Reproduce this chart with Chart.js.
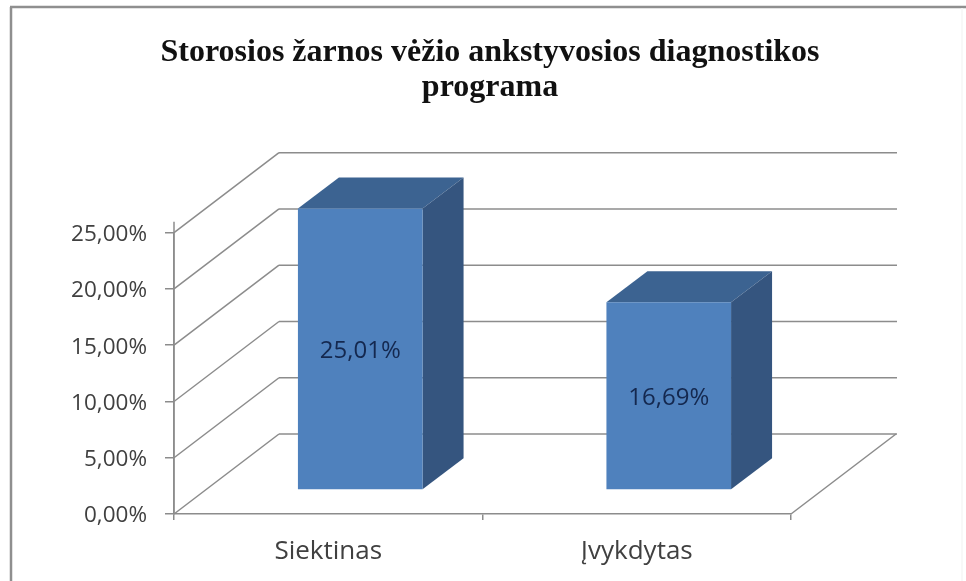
<!DOCTYPE html>
<html><head><meta charset="utf-8">
<style>html,body{margin:0;padding:0;background:#fff;overflow:hidden}canvas{display:block}</style>
<script src="https://cdn.jsdelivr.net/npm/chart.js@4"></script></head>
<body><canvas id="c" width="966" height="581" style="width:966px;height:581px"></canvas>
<script>
const titleLines = ['Storosios žarnos vėžio ankstyvosios diagnostikos', 'programa'];
const categories = ['Siektinas', 'Įvykdytas'];
const values = [25.01, 16.69];
const valueLabels = ['25,01%', '16,69%'];
const yTicks = [0, 5, 10, 15, 20, 25];

const LINE = '#8c8c8c', TEXT = '#404040', FONT = '"Open Sans", sans-serif';
const WALL = {dx: 105, dy: -80}, BAR = {dx: 41, dy: -31}, SHIFT = {dx: 32, dy: -24};
const fmt = v => v.toFixed(2).replace('.', ',') + '%';

function seg(ctx, x0, y0, x1, y1) { ctx.beginPath(); ctx.moveTo(x0, y0); ctx.lineTo(x1, y1); ctx.stroke(); }
function poly(ctx, pts, fill) {
  ctx.beginPath(); pts.forEach((p, i) => i ? ctx.lineTo(p[0], p[1]) : ctx.moveTo(p[0], p[1]));
  ctx.closePath(); ctx.fillStyle = fill; ctx.fill();
}

const box3d = {
  id: 'box3d',
  afterLayout(chart) { chart.titleBlock.left = 14; chart.titleBlock.right = 966; },
  beforeDraw(chart) {
    const ctx = chart.ctx;
    ctx.save(); ctx.strokeStyle = '#8f8f8f'; ctx.lineWidth = 2.5;
    seg(ctx, 11, 581, 11, 7); seg(ctx, 10, 7, 966, 7);
    ctx.strokeStyle = '#f6f6f6'; ctx.lineWidth = 1.5; seg(ctx, 962, 8, 962, 581);
    ctx.restore();
  },
  beforeDatasetsDraw(chart) {
    const ctx = chart.ctx, x = chart.scales.x, y = chart.scales.y;
    const L = x.left, R = x.right;
    ctx.save(); ctx.strokeStyle = LINE; ctx.lineWidth = 1.5;
    yTicks.forEach(v => {
      const p = y.getPixelForValue(v);
      seg(ctx, L, p, L + WALL.dx, p + WALL.dy);
      seg(ctx, L + WALL.dx, p + WALL.dy, R + WALL.dx + 1, p + WALL.dy);
    });
    const b = y.getPixelForValue(0);
    seg(ctx, R, b, R + WALL.dx, b + WALL.dy);
    seg(ctx, L, y.top - 11, L, y.bottom);
    chart.getDatasetMeta(0).data.forEach(el => {
      const g = el.getProps(['x', 'y', 'width', 'base'], true);
      const l = g.x - g.width / 2 + SHIFT.dx, r = g.x + g.width / 2 + SHIFT.dx;
      const t = g.y + SHIFT.dy, u = g.base + SHIFT.dy;
      poly(ctx, [[l, t], [l + BAR.dx, t + BAR.dy], [r + BAR.dx, t + BAR.dy], [r, t]], '#3c6391');
      poly(ctx, [[r, t], [r + BAR.dx, t + BAR.dy], [r + BAR.dx, u + BAR.dy], [r, u]], '#35557f');
    });
    ctx.restore();
    ctx.save(); ctx.translate(SHIFT.dx, SHIFT.dy);
  },
  afterDatasetsDraw(chart) {
    const ctx = chart.ctx;
    chart.getDatasetMeta(0).data.forEach((el, i) => {
      const g = el.getProps(['x', 'y', 'base'], true);
      ctx.fillStyle = '#14284f'; ctx.font = '24px ' + FONT;
      ctx.textAlign = 'center'; ctx.textBaseline = 'middle';
      ctx.fillText(valueLabels[i], g.x, (g.y + g.base) / 2 + 2.5);
    });
    ctx.restore();
  }
};

new Chart(document.getElementById('c'), {
  type: 'bar',
  data: {labels: categories, datasets: [{data: values, backgroundColor: '#4f81bd', borderWidth: 0,
    barPercentage: 1, categoryPercentage: 0.404, clip: false}]},
  plugins: [box3d],
  options: {
    responsive: false, animation: false, events: [],
    layout: {padding: {right: 175}},
    plugins: {
      legend: {display: false}, tooltip: {enabled: false},
      title: {display: true, text: titleLines, color: '#111',
        font: {family: '"Liberation Serif", serif', size: 32, weight: 'bold', lineHeight: 1.1},
        padding: {top: 35, bottom: 127.3}}
    },
    scales: {
      x: {
        afterFit(s) { s.height = 67; },
        grid: {display: true, drawOnChartArea: false, drawTicks: true, tickLength: 6, color: LINE, lineWidth: 1.5},
        border: {display: true, color: LINE, width: 1.5},
        ticks: {color: TEXT, font: {family: FONT, size: 26}, padding: 16, maxRotation: 0}
      },
      y: {
        min: 0, max: 25,
        afterFit(s) { s.width = 174; },
        afterBuildTicks(s) { s.ticks = yTicks.map(v => ({value: v})); },
        grid: {display: true, drawOnChartArea: false, drawTicks: true, tickLength: 9, color: LINE, lineWidth: 1.5},
        border: {display: true, color: LINE, width: 1.5},
        ticks: {color: TEXT, font: {family: FONT, size: 22.5}, padding: 18, labelOffset: 2, callback: fmt}
      }
    }
  }
});
</script></body></html>
